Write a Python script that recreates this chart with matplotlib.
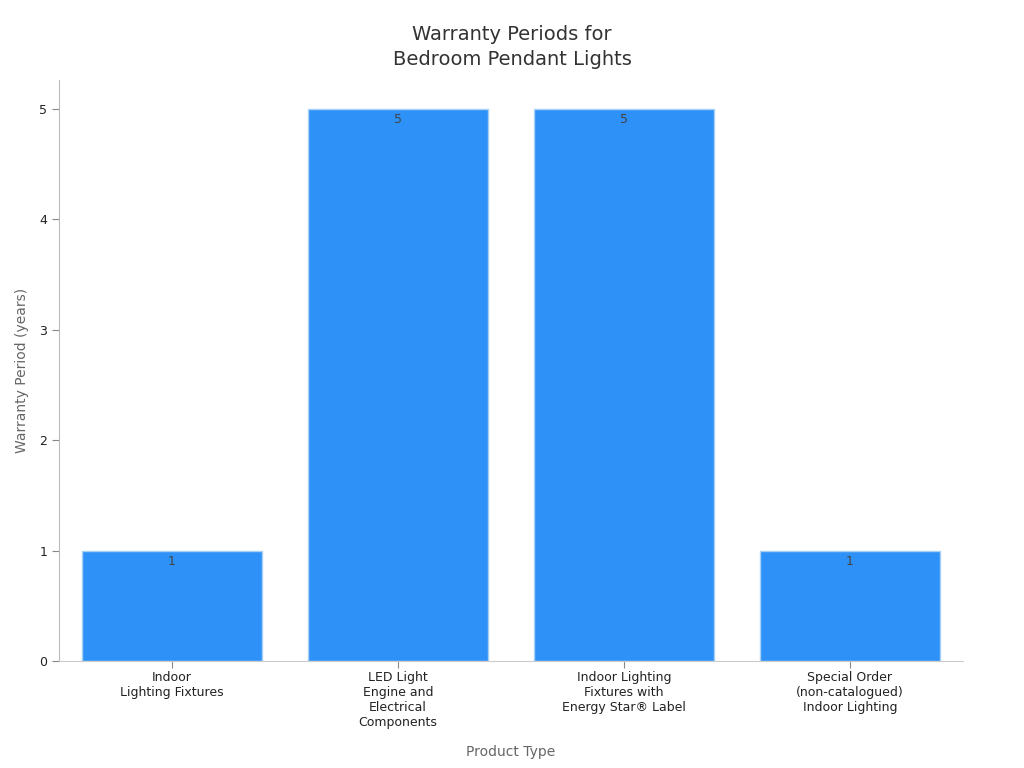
import matplotlib
matplotlib.use("Agg")
import matplotlib.pyplot as plt

categories = [
    "Indoor\nLighting Fixtures",
    "LED Light\nEngine and\nElectrical\nComponents",
    "Indoor Lighting\nFixtures with\nEnergy Star® Label",
    "Special Order\n(non-catalogued)\nIndoor Lighting",
]
warranty_years = [1, 5, 5, 1]
yticks = [0, 1, 2, 3, 4, 5]

plt.rcParams["font.family"] = ["DejaVu Sans"]

fig = plt.figure(figsize=(10.24, 7.68), dpi=100)
ax = fig.add_axes([0.0576, 0.1393, 0.8828, 0.7565])

x = range(len(categories))
bars = ax.bar(x, warranty_years, width=0.8, color="#2E91F8",
              edgecolor="#A8D0F5", linewidth=1)

for b, v in zip(bars, warranty_years):
    ax.annotate(str(v), (b.get_x() + b.get_width() / 2, v),
                xytext=(0, -3), textcoords="offset points",
                ha="center", va="top", fontsize=9, color="#444444")

ax.set_xlim(-0.5, 3.5)
ax.set_ylim(0, 5.26)
ax.set_yticks(yticks)
ax.set_xticks(list(x))
ax.set_xticklabels(categories, fontsize=9, color="#222222")
ax.tick_params(axis="y", labelsize=9, labelcolor="#222222", color="#888888", length=5)
ax.tick_params(axis="x", color="#888888", length=5, pad=2.5)

for s in ["top", "right"]:
    ax.spines[s].set_visible(False)
ax.spines["left"].set_color("#BBBBBB")
ax.spines["bottom"].set_color("#CCCCCC")

ax.set_xlabel("Product Type", fontsize=10, color="#666666", labelpad=11)
ax.set_ylabel("Warranty Period (years)", fontsize=10, color="#666666", labelpad=7)
fig.suptitle("Warranty Periods for\nBedroom Pendant Lights", fontsize=14,
             color="#333333", y=0.968, linespacing=1.45)

fig.savefig("out.png", dpi=100)
